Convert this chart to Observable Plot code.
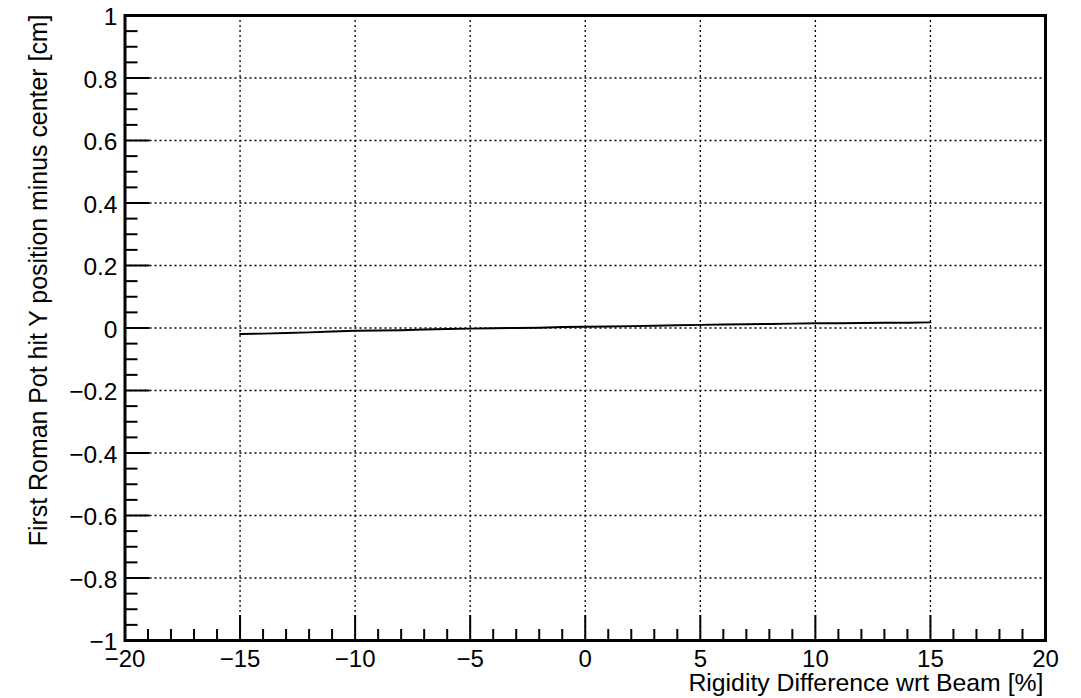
<!DOCTYPE html>
<html><head><meta charset="utf-8">
<script src="https://cdn.jsdelivr.net/npm/d3@7"></script>
<script src="https://cdn.jsdelivr.net/npm/@observablehq/plot@0.6"></script>
<style>html,body{margin:0;padding:0;background:#fff;}</style>
</head><body><div id="chart"></div>
<script>
// Data
const rigidityDiff = [-15,-14,-13,-12,-11,-10,-9,-8,-7,-6,-5,-4,-3,-2,-1,0,1,2,3,4,5,6,7,8,9,10,11,12,13,14,15];
const yPosition   = [-0.019,-0.018,-0.016,-0.014,-0.011,-0.009,-0.008,-0.007,-0.005,-0.003,-0.002,-0.001,0.000,0.001,0.003,0.004,0.005,0.006,0.007,0.009,0.010,0.011,0.012,0.013,0.014,0.015,0.015,0.016,0.017,0.017,0.018];

const xMajorTicks = [-20,-15,-10,-5,0,5,10,15,20];
const xMinorTicks = [-19,-18,-17,-16,-14,-13,-12,-11,-9,-8,-7,-6,-4,-3,-2,-1,1,2,3,4,6,7,8,9,11,12,13,14,16,17,18,19];
const yMajorTicks = [-1,-0.8,-0.6,-0.4,-0.2,0,0.2,0.4,0.6,0.8,1];
const yMinorTicks = [-0.95,-0.9,-0.85,-0.75,-0.7,-0.65,-0.55,-0.5,-0.45,-0.35,-0.3,-0.25,-0.15,-0.1,-0.05,0.05,0.1,0.15,0.25,0.3,0.35,0.45,0.5,0.55,0.65,0.7,0.75,0.85,0.9,0.95];

const xTitle = "Rigidity Difference wrt Beam [%]";
const yTitle = "First Roman Pot hit Y position minus center [cm]";

const data = rigidityDiff.map((x, i) => ({x, y: yPosition[i]}));
const fmt = d => d3.format("~g")(d);

const chart = Plot.plot({
  width: 1081,
  height: 698,
  marginLeft: 124.5,
  marginRight: 36,
  marginTop: 15,
  marginBottom: 58,
  style: {fontFamily: "'Liberation Sans', Arial, sans-serif", background: "#fff", color: "#000"},
  x: {domain: [-20, 20]},
  y: {domain: [-1, 1]},
  marks: [
    Plot.gridX(xMajorTicks, {stroke: "#000", strokeOpacity: 1, strokeWidth: 1.3, strokeDasharray: "2,3"}),
    Plot.gridY(yMajorTicks, {stroke: "#000", strokeOpacity: 1, strokeWidth: 1.3, strokeDasharray: "2,3"}),
    Plot.axisX(xMajorTicks, {tickSize: -25, text: null, label: null, strokeWidth: 2}),
    Plot.axisX(xMinorTicks, {tickSize: -11, text: null, label: null, strokeWidth: 2}),
    Plot.axisY(yMajorTicks, {tickSize: -25, text: null, label: null, strokeWidth: 2}),
    Plot.axisY(yMinorTicks, {tickSize: -13, text: null, label: null, strokeWidth: 2}),
    Plot.axisX(xMajorTicks, {tickSize: 0, tickPadding: 9, tickFormat: fmt, fontSize: 24, label: null}),
    Plot.axisY(yMajorTicks, {tickSize: 0, tickPadding: 7.5, dy: 2, tickFormat: fmt, fontSize: 24.5, label: null}),
    Plot.line(data, {x: "x", y: "y", stroke: "#000", strokeWidth: 2}),
    Plot.frame({stroke: "#000", strokeWidth: 3}),
    Plot.text([xTitle], {frameAnchor: "bottom-right", textAnchor: "end", lineAnchor: "bottom", dx: -2, dy: 50, fontSize: 24.8, fill: "#000"}),
    Plot.text([yTitle], {frameAnchor: "top-left", textAnchor: "end", lineAnchor: "bottom", rotate: -90, dx: -78, dy: -1, fontSize: 24.9, fill: "#000"})
  ]
});
document.getElementById("chart").appendChild(chart);
</script>
</body></html>
